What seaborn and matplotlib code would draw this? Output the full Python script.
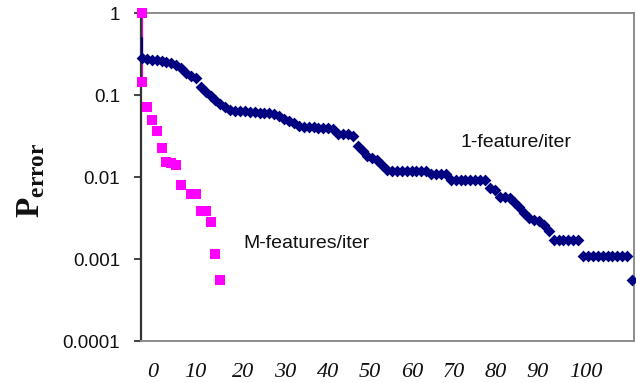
import numpy as np
import pandas as pd
import matplotlib
matplotlib.use("Agg")
import matplotlib.pyplot as plt
import seaborn as sns

# ── data ──────────────────────────────────────────────────
# 1-feature/iter : one value per iteration 0..100
one_feat_err = (
    [0.28, 0.275, 0.27, 0.265, 0.26, 0.255, 0.245, 0.23, 0.215, 0.185,
     0.17, 0.16, 0.125, 0.11, 0.097, 0.087, 0.078, 0.071, 0.066, 0.064,
     0.064, 0.063, 0.062, 0.062, 0.061, 0.06, 0.06, 0.059, 0.055, 0.051,
     0.048, 0.045, 0.042, 0.041, 0.041, 0.041, 0.04, 0.04, 0.04, 0.039,
     0.033, 0.033, 0.033, 0.032, 0.024, 0.021, 0.018, 0.017, 0.016, 0.014,
     0.0122]
    + [0.012] * 8
    + [0.011] * 4
    + [0.0093] * 8
    + [0.0074, 0.007, 0.0057, 0.0057, 0.0055, 0.005, 0.0043, 0.0036,
       0.0032, 0.003, 0.0029, 0.0026, 0.0022]
    + [0.0017] * 6
    + [0.0011] * 10
    + [0.00056]
)
one_feat_iter = list(range(len(one_feat_err)))
one_feat_start = 0.5

# M-features/iter
m_feat_iter = [0, 0, 1, 2, 3, 4, 5, 6, 7, 8, 10, 11, 12, 13, 14, 15, 16]
m_feat_err = [1.0, 0.144, 0.071, 0.049, 0.036, 0.0225, 0.0152, 0.0148, 0.0141,
              0.0079, 0.0062, 0.0062, 0.0039, 0.0039, 0.0028, 0.00115, 0.00056]

ytick_vals = [1, 0.1, 0.01, 0.001, 0.0001]
ytick_text = ["1", "0.1", "0.01", "0.001", "0.0001"]
xtick_text = ["0", "10", "20", "30", "40", "50", "60", "70", "80", "90", "100"]
# where the x labels sit in the original figure
xtick_pos = [2.1, 10.8, 20.6, 29.2, 37.9, 46.4, 55.1, 63.6, 72.2, 80.8, 90.6]

NAVY = "#000080"
MAGENTA = "#FF00FF"

# ── figure ────────────────────────────────────────────────
sns.set_style("white")
plt.rcParams["font.family"] = ["Liberation Sans", "DejaVu Sans"]
plt.rcParams["mathtext.fontset"] = "custom"
plt.rcParams["mathtext.bf"] = "Liberation Serif:bold"
plt.rcParams["mathtext.rm"] = "Liberation Serif"

fig = plt.figure(figsize=(6.36, 3.83), dpi=100)
ax = fig.add_axes([141 / 636, 1 - 341 / 383, 493 / 636, 328 / 383])

# initial drop lines at iteration 0
sns.lineplot(x=m_feat_iter[:2], y=m_feat_err[:2], color=MAGENTA, lw=1.6,
             estimator=None, sort=False, ax=ax, zorder=2)
sns.lineplot(x=[0, 0], y=[one_feat_start, one_feat_err[0]], color=NAVY, lw=1.6,
             estimator=None, sort=False, ax=ax, zorder=3)

sns.scatterplot(x=m_feat_iter, y=m_feat_err, marker="s", s=42, color=MAGENTA,
                linewidth=0, ax=ax, zorder=3, clip_on=False)
sns.scatterplot(x=one_feat_iter, y=one_feat_err, marker="D", s=36, color=NAVY,
                linewidth=0, ax=ax, zorder=4, clip_on=False)

ax.set_yscale("log")
ax.set_ylim(1e-4, 1)
ax.set_xlim(-0.2, 100.4)
ax.set_yticks(ytick_vals)
ax.set_yticklabels(ytick_text, fontsize=13.5, color="#111111")
ax.minorticks_off()
ax.tick_params(axis="y", direction="out", length=5, width=1.2, color="#222222",
               pad=10, left=True)
ax.set_xticks(xtick_pos)
ax.set_xticklabels(xtick_text, fontsize=16, style="italic",
                   family="Liberation Serif", color="#111111")
ax.tick_params(axis="x", length=0, pad=16)

for side in ["top", "right", "bottom"]:
    ax.spines[side].set_color("#8c8c8c")
    ax.spines[side].set_linewidth(1.4)
ax.spines["left"].set_color("#333333")
ax.spines["left"].set_linewidth(1.6)

ax.set_xlabel("")
ax.set_ylabel(r"$\mathbf{P}_{\mathbf{error}}$", fontsize=24, color="#111111")
ax.yaxis.set_label_coords(-0.19, 0.49)

ax.text(76.3, 0.0266, "1-feature/iter", fontsize=14, ha="center", va="center",
        color="#111111")
ax.text(33.5, 0.00156, "M-features/iter", fontsize=14, ha="center", va="center",
        color="#111111")

plt.savefig("out.png", dpi=100)
